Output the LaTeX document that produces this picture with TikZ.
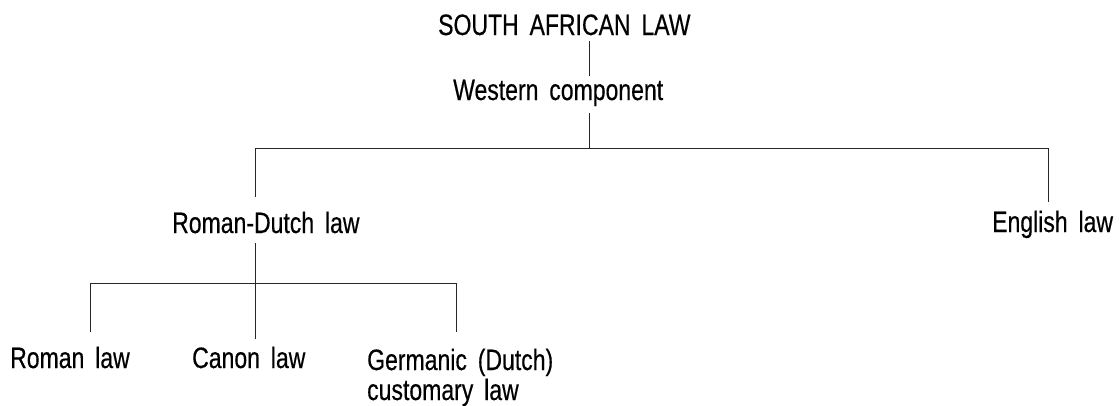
\documentclass[tikz,border=0pt]{standalone}
\usepackage{fontspec}
\setmainfont{Liberation Sans}[FakeStretch=0.78,WordSpace=1.7,FakeBold=0.4]
\usetikzlibrary{calc}

\begin{document}
\begin{tikzpicture}[x=1pt,y=-1pt,lbl/.style={anchor=base west,inner sep=0pt,text height=20pt,text depth=6pt,font=\fontsize{29.5}{30}\selectfont},link/.style={draw=black!85,line width=1pt}]
\useasboundingbox (0,0) rectangle (1120,405);
\node[lbl] (sal) at (438,35) {SOUTH AFRICAN LAW};
\node[lbl] (west) at (453,100) {Western component};
\node[lbl] (rdl) at (172,233) {Roman-Dutch law};
\node[lbl] (eng) at (992,232) {English law};
\node[lbl] (roman) at (10,368) {Roman law};
\node[lbl] (canon) at (192,368) {Canon law};
\node[lbl,align=left,text height=,text depth=] (germ) at (367,400) {Germanic (Dutch)\\customary law};
% branch points
\coordinate (fork1) at (589,148);
\coordinate (fork2) at (255,283);
\coordinate (engdrop) at (1048,148);
\coordinate (romdrop) at (90,283);
\coordinate (germdrop) at (456,283);
\draw[link] (sal.south -| fork1) -- ([yshift=4pt]west.north -| fork1);
\draw[link] ([yshift=-7pt]west.south -| fork1) -- (fork1);
\draw[link] ([yshift=16pt]rdl.north -| fork2) |- (engdrop) -- ([yshift=10pt]eng.north -| engdrop);
\draw[link] ([yshift=-4pt]rdl.south -| fork2) -- ([yshift=9pt]canon.north -| fork2);
\draw[link] ([yshift=16pt]roman.north -| romdrop) |- (germdrop) -- ([yshift=16pt]canon.north -| germdrop);
\end{tikzpicture}
\end{document}
